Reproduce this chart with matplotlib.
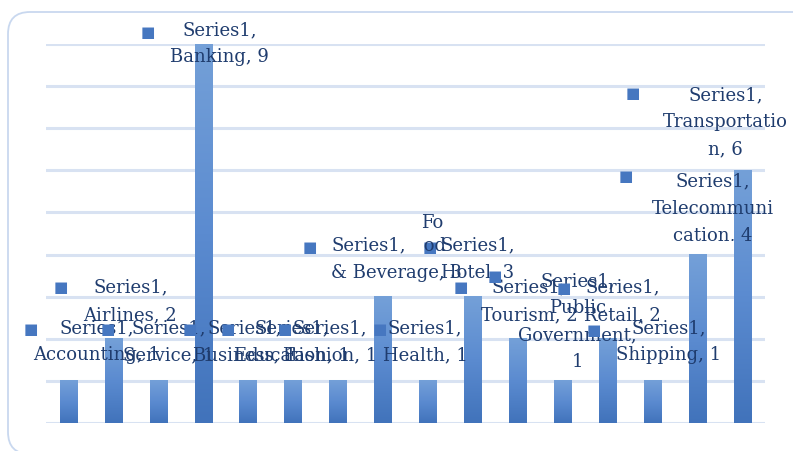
import numpy as np
import matplotlib
matplotlib.use("Agg")
import matplotlib.pyplot as plt
from matplotlib.colors import LinearSegmentedColormap
from matplotlib.patches import FancyBboxPatch, Rectangle
from matplotlib.transforms import IdentityTransform

# chart data
series_name = "Series1"
categories = ["Accounting", "Airlines", "Service", "Banking", "Business", "Education",
              "Fashion", "Food & Beverage", "Health", "Hotel", "Tourism",
              "Public Government", "Retail", "Shipping", "Telecommunication",
              "Transportation"]
values = [1, 2, 1, 9, 1, 1, 1, 3, 1, 3, 2, 1, 2, 1, 4, 6]

# how the label text wraps (as in the picture)
wrapped = {"Food & Beverage": "& Beverage",
           "Public Government": "Public\nGovernment,\n",
           "Telecommunication": "Telecommuni\ncation",
           "Transportation": "Transportatio\nn"}

# label layout: offsets in pixels from bar top (text centre of first line, marker)
text_off = [(28, 52), (17, 50), (10, 52), (16, 13), (-3, 52), (-1, 52), (-8, 52),
            (-52, 50), (-3, 52), (5, 50), (11, 50), (15, 99), (15, 50), (16, 52),
            (15, 72), (-17, 74)]
mark_off = [(-38, 52), (-53, 52), (-51, 52), (-55, 13), (-58, 52), (-65, 52), (-53, 52),
            (-73, 50), (-48, 52), (-43, 50), (-57, 52), (-68, 105), (-44, 51), (-59, 51),
            (-72, 79), (-110, 78)]
left_aligned = {"Food & Beverage"}

text_color = "#1f3c6e"
grid_color = "#d8e2f2"
bar_cmap = LinearSegmentedColormap.from_list("bar", ["#4173bb", "#5b8bd0", "#74a0d8"])

W, H = 793, 452
fig = plt.figure(figsize=(W / 100, H / 100), dpi=100)
ax = fig.add_axes([46 / W, 28 / H, (765 - 46) / W, (424 - 45) / H])

x = np.arange(len(values))
bw = 0.39
grad = np.linspace(0, 1, 100).reshape(-1, 1)
for xi, v in zip(x, values):
    ax.imshow(grad, extent=(xi - bw / 2, xi + bw / 2, 0, v), origin="lower",
              aspect="auto", cmap=bar_cmap, zorder=2, interpolation="bilinear")

ax.set_xlim(-0.5, len(values) - 0.5)
ax.set_ylim(0, 9)
ax.set_yticks(range(10))
ax.yaxis.grid(True, color=grid_color, lw=2.2, zorder=0)
ax.set_axisbelow(True)
ax.tick_params(left=False, bottom=False, labelleft=False, labelbottom=False)
for s in ax.spines.values():
    s.set_visible(False)

font = dict(family="DejaVu Serif", fontsize=13, color=text_color, linespacing=1.65)

for i, (cat, v) in enumerate(zip(categories, values)):
    name = wrapped.get(cat, cat)
    if name.endswith("\n"):
        label = f"{series_name},\n{name}{v}"
    else:
        label = f"{series_name},\n{name}, {v}"
    dx, dy = text_off[i]
    ha = "left" if cat in left_aligned else "center"
    t = ax.annotate(label, xy=(i, v), xytext=(dx, dy + 11), textcoords="offset pixels",
                    ha=ha, va="top", zorder=5, annotation_clip=False, **font)
    if cat == "Telecommunication":
        # the label box cuts off the last line in the original
        t.set_clip_on(True)
        t.set_clip_path(Rectangle((0, H - 242), W, 242, transform=IdentityTransform()))
    mx, my = mark_off[i]
    ax.annotate("\u25A0", xy=(i, v), xytext=(mx, my), textcoords="offset pixels",
                ha="center", va="center", fontsize=11, color="#4677c0",
                family="DejaVu Sans", zorder=5, annotation_clip=False)

# the split "Fo / od" piece of the Food & Beverage label
ax.annotate("Fo\n od", xy=(7, values[7]), xytext=(49, 84), textcoords="offset pixels",
            ha="center", va="top", zorder=5, annotation_clip=False,
            **{**font, "linespacing": 1.4})

border = FancyBboxPatch((8, -3), 820, H - 13 + 3, boxstyle="round,pad=0,rounding_size=22",
                        transform=IdentityTransform(), fill=False, ec="#c9d8ef", lw=1.3)
fig.add_artist(border)

fig.savefig("out.png", dpi=100)
